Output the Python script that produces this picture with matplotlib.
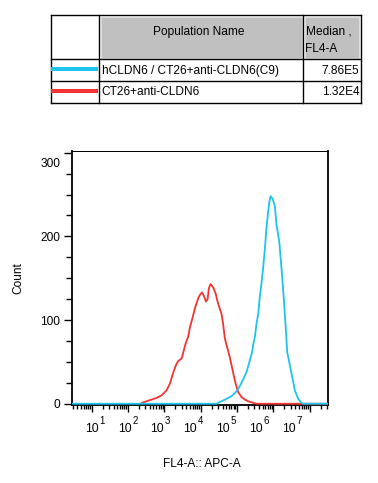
import matplotlib
matplotlib.use("Agg")
import matplotlib.pyplot as plt
import numpy as np
from matplotlib.ticker import LogLocator, MultipleLocator, NullFormatter, FixedLocator
from matplotlib.transforms import blended_transform_factory, ScaledTranslation
from matplotlib.patches import Rectangle
from matplotlib.lines import Line2D

plt.rcParams['font.family'] = ['Liberation Sans', 'DejaVu Sans']
plt.rcParams['mathtext.default'] = 'regular'

# ---------------- data ----------------
series_names = ["hCLDN6 / CT26+anti-CLDN6(C9)", "CT26+anti-CLDN6"]
series_medians = ["7.86E5", "1.32E4"]
series_colors = ["#1cc4ee", "#f23434"]

blue_log10_x = [0.46, 4.436, 4.573, 4.711, 4.848, 4.986, 5.076, 5.167, 5.261, 5.351,
                5.414, 5.442, 5.489, 5.535, 5.580, 5.626, 5.673, 5.717, 5.764, 5.811,
                5.846, 5.882, 5.920, 5.975, 6.039, 6.085, 6.157, 6.223, 6.286, 6.341,
                6.377, 6.451, 6.525, 6.588, 6.679, 6.772, 6.822, 7.5]
blue_count = [0, 0, 3, 6, 9, 15, 21, 29, 38, 52,
              62, 70, 80, 96, 107, 128, 145, 163, 185, 212,
              226, 240, 248, 245, 236, 213, 195, 161, 125, 89,
              62, 46, 30, 16, 6, 1, 0, 0]

red_log10_x = [2.374, 2.512, 2.649, 2.787, 2.924, 3.062, 3.152, 3.243, 3.317, 3.380,
               3.474, 3.518, 3.584, 3.655, 3.702, 3.776, 3.840, 3.930, 3.977, 4.037,
               4.087, 4.142, 4.189, 4.224, 4.271, 4.343, 4.408, 4.463, 4.527, 4.573,
               4.617, 4.664, 4.711, 4.755, 4.802, 4.848, 4.912, 4.966, 5.030, 5.076,
               5.123, 5.214, 5.305, 5.442, 5.544, 7.5]
red_count = [1, 3, 5, 7, 10, 16, 24, 37, 46, 51,
             54, 61, 72, 80, 91, 103, 114, 126, 130, 133,
             129, 122, 125, 138, 143, 139, 132, 122, 113, 107,
             95, 78, 70, 63, 55, 46, 33, 23, 14, 11,
             8, 5, 3, 1, 0, 0]

x_decades = [1, 2, 3, 4, 5, 6, 7]
y_ticks = [0, 100, 200, 300]

# ---------------- figure ----------------
W, H = 378, 483
fig = plt.figure(figsize=(W / 100, H / 100), dpi=100)
px = 0.72  # points per pixel

def fx(p):
    return p / W

def fy(p):
    return 1 - p / H

ax = fig.add_axes([fx(72), fy(405), fx(328) - fx(72), fy(151) - fy(405)])
ax.plot(10 ** np.array(red_log10_x), red_count, color=series_colors[1], lw=1.3, zorder=3)
ax.plot(10 ** np.array(blue_log10_x), blue_count, color=series_colors[0], lw=1.3, zorder=4)

ax.set_xscale('log')
ax.set_xlim(10 ** 0.46, 10 ** 7.5)
ax.set_ylim(-1.5, 302)

ax.xaxis.set_major_locator(FixedLocator([10.0 ** d for d in x_decades]))
ax.xaxis.set_minor_locator(LogLocator(base=10, subs=np.arange(2, 10), numticks=20))
ax.xaxis.set_major_formatter(NullFormatter())
ax.xaxis.set_minor_formatter(NullFormatter())
ax.tick_params(axis='x', which='major', length=6.5 * px, width=1.0, direction='out')
ax.tick_params(axis='x', which='minor', length=4 * px, width=1.0, direction='out')

ax.yaxis.set_major_locator(FixedLocator(y_ticks))
ax.yaxis.set_minor_locator(MultipleLocator(25))
ax.tick_params(axis='y', which='major', length=8 * px, width=1.0, pad=4 * px, labelsize=8.6)
ax.tick_params(axis='y', which='minor', length=6 * px, width=1.0)

for s in ['left', 'right', 'bottom']:
    ax.spines[s].set_linewidth(1.8 * px)
ax.spines['top'].set_linewidth(1.0 * px)

fig.canvas.draw()
for lab in ax.yaxis.get_majorticklabels():
    if lab.get_text() == '300':
        lab.set_transform(lab.get_transform() + ScaledTranslation(0, -9.5 / 100, fig.dpi_scale_trans))

# x tick labels: base "10" centred, exponent as a separate raised text
blend = blended_transform_factory(ax.transData, ax.transAxes)
t_base = blend + ScaledTranslation(0, -27 / 100, fig.dpi_scale_trans)
t_exp = blend + ScaledTranslation(7.6 / 100, -19.5 / 100, fig.dpi_scale_trans)
for i, d in enumerate(x_decades):
    pos = 10 ** (1 + i * 0.9044)
    ax.text(pos, 0, '10', transform=t_base, ha='center', va='baseline',
            fontsize=8.8, clip_on=False)
    ax.text(pos, 0, str(d), transform=t_exp, ha='left', va='baseline',
            fontsize=7.0, clip_on=False)

fig.text(fx(18), fy(278), 'Count', rotation=90, ha='center', va='center', fontsize=8.6)
fig.text(fx(202), fy(464), 'FL4-A:: APC-A', ha='center', va='center', fontsize=8.6)

# ---------------- table ----------------
at = fig.add_axes([0, 0, 1, 1], zorder=-1)
at.set_xlim(0, W)
at.set_ylim(H, 0)
at.axis('off')

cols = [50.7, 99, 303, 360.7]
rows = [15, 59, 81, 103]
for (x0, x1) in [(cols[1], cols[2]), (cols[2], cols[3])]:
    at.add_patch(Rectangle((x0 + 1.5, rows[0] + 1.5), x1 - x0 - 3, rows[1] - rows[0] - 3,
                           facecolor='#c0c0c0', edgecolor='#dcdcdc', lw=0.8))
for c in cols:
    at.add_line(Line2D([c, c], [rows[0], rows[-1]], color='black', lw=1.0))
for r in rows:
    at.add_line(Line2D([cols[0], cols[-1]], [r, r], color='black', lw=1.0))

at.text((cols[1] + cols[2]) / 2 - 2, 31.5, 'Population Name', ha='center', va='center', fontsize=8.6)
at.text(cols[2] + 2.5, 31.5, 'Median ,', ha='left', va='center', fontsize=8.6)
at.text(cols[2] + 2.5, 49.3, 'FL4-A', ha='left', va='center', fontsize=8.6)

row_centers = [71, 91.7]
swatch_y = [69.3, 90.7]
for name, med, col, yc, ys in zip(series_names, series_medians, series_colors, row_centers, swatch_y):
    at.add_line(Line2D([cols[0], cols[1] - 1], [ys, ys], color=col, lw=4 * px, solid_capstyle='butt'))
    at.text(cols[1] + 2.5, yc, name, ha='left', va='center', fontsize=8.6)
    at.text(cols[3] - 1.5, yc, med, ha='right', va='center', fontsize=8.6)

fig.savefig('out.png', dpi=100)
